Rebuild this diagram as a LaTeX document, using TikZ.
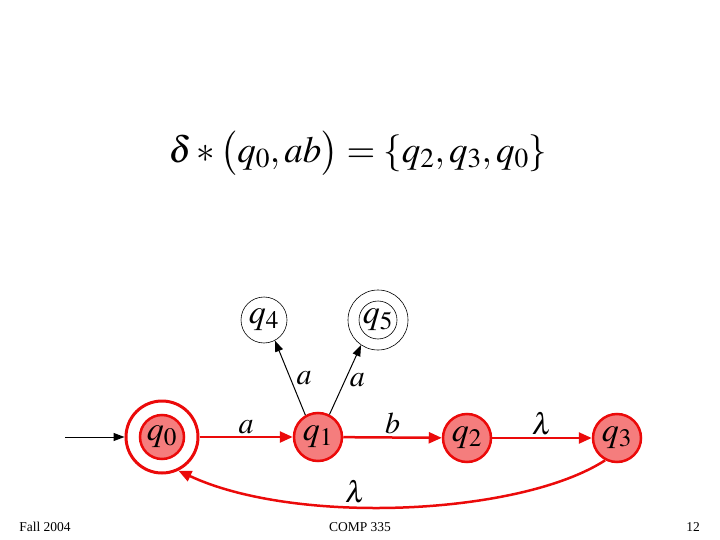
\documentclass[tikz,border=0pt]{standalone}
\usepackage{amsmath}
\usepackage{mathptmx}
\usepackage{fontspec}
\setmainfont{Liberation Serif}
\usetikzlibrary{arrows.meta}
\definecolor{statered}{RGB}{235,10,10}
\definecolor{statefill}{RGB}{245,125,125}
\tikzset{
	redstate/.style={circle,draw=statered,fill=statefill,line width=2.5pt,
		minimum size=48pt,inner sep=0pt,font=\fontsize{34}{36}\selectfont},
	plainstate/.style={circle,draw,line width=0.6pt,
		minimum size=46pt,inner sep=0pt,font=\fontsize{34}{36}\selectfont},
	redring/.style={circle,draw=statered,line width=3pt,minimum size=72pt,inner sep=0pt},
	redarc/.style={draw=statered,line width=2.5pt,-{Stealth[length=13pt,width=11pt,inset=0pt]}},
	blackarc/.style={draw,line width=1pt,-{Stealth[length=11pt,width=8pt,inset=0pt]}},
	arclabel/.style={font=\fontsize{30}{32}\selectfont,inner sep=2pt}
}

\begin{document}
\begin{tikzpicture}[x=1pt,y=-1pt]
		\useasboundingbox (0,0) rectangle (720,540);
		\node (formula) at (358,153) {\fontsize{37}{39}\selectfont
			$\delta*\bigl(q_0,ab\bigr)=\{q_2,q_3,q_0\}$};
		% states
		\node[redstate,minimum size=44pt] (q0) at (162,437) {$q_0$};
		\node[redring] (q0ring) at (162,437) {};
		\node[redstate] (q1) at (318,437) {$q_1$};
		\node[redstate] (q2) at (467,438) {$q_2$};
		\node[redstate] (q3) at (617,438) {$q_3$};
		\node[plainstate] (q4) at (264,320) {$q_4$};
		\node[plainstate,minimum size=38pt] (q5) at (378,320) {$q_5$};
		\node[circle,draw,line width=0.6pt,minimum size=60pt] (q5ring) at (378,320) {};
		\coordinate (start) at (65,437);
		% transitions
		\draw[blackarc] (start) -- (q0ring);
		\draw[redarc] (q0ring) -- node[arclabel,above,black]{$a$} (q1);
		\draw[redarc] (q1) -- node[arclabel,above,black]{$b$} (q2);
		\draw[redarc] (q2) -- node[arclabel,above,black]{$\lambda$} (q3);
		\draw[blackarc] (q1.120) -- node[arclabel,right,xshift=4pt]{$a$} (q4.-62);
		\draw[blackarc] (q1.63) -- node[arclabel,right,xshift=2pt]{$a$} (q5ring.-124);
		\draw[redarc] (q3.-118) .. controls +(-85,55) and +(118,55) ..
		node[arclabel,above,black,pos=0.6]{$\lambda$} (q0ring.-64);
		% footer
		\node[font=\fontsize{13.5}{15}\selectfont] (left) at (45,527) {Fall 2004};
		\node[font=\fontsize{13.5}{15}\selectfont] (mid) at (360,527) {COMP 335};
		\node[font=\fontsize{13.5}{15}\selectfont] (right) at (693,527) {12};
\end{tikzpicture}
\end{document}
